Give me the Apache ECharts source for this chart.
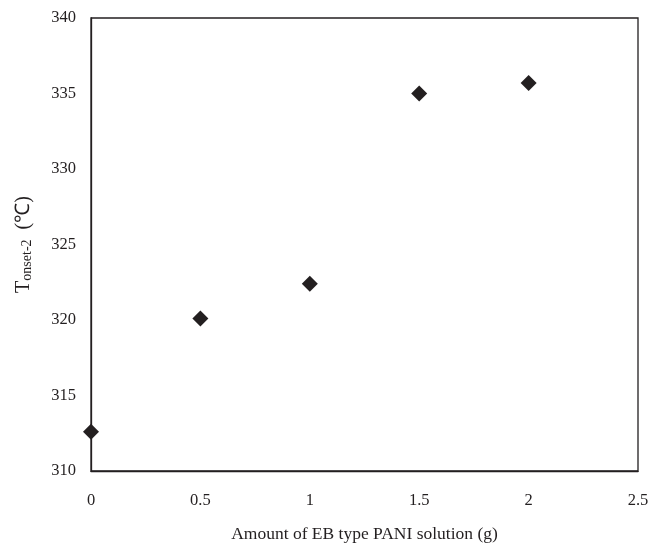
<!DOCTYPE html>
<html>
<head>
<meta charset="utf-8">
<script src="https://cdn.jsdelivr.net/npm/echarts@6/dist/echarts.min.js"></script>
<style>
  html, body { margin: 0; padding: 0; background: #fff; }
  #chart { width: 652px; height: 545px; }
</style>
</head>
<body>
<div id="chart"></div>
<script>
// amount of EB type PANI solution (g) vs onset temperature
const amounts = [0, 0.5, 1, 1.5, 2]
const tOnset = [312.6, 320.1, 322.4, 335.0, 335.7]

const serif = 'Liberation Serif'
const ink = '#231f20'

let myChart = echarts.init(document.getElementById('chart'))

const option = {
    animation: false,
    grid: {
        left: 91, right: 14, top: 18, bottom: 74,
        outerBoundsMode: 'none',
        show: true, borderColor: ink, borderWidth: 1.3
    },
    xAxis: {
        type: 'value',
        min: 0, max: 2.5, interval: 0.5,
        axisLine: { lineStyle: { color: ink, width: 1.3 } },
        axisTick: { show: false },
        splitLine: { show: false },
        axisLabel: { margin: 21, fontFamily: serif, fontSize: 16.5, color: ink },
        name: 'Amount of EB type PANI solution (g)',
        nameLocation: 'middle',
        nameGap: 54,
        nameTextStyle: { fontFamily: serif, fontSize: 17.5, color: ink }
    },
    yAxis: {
        type: 'value',
        min: 310, max: 340, interval: 5,
        axisLine: { show: true, lineStyle: { color: ink, width: 1.3 } },
        axisTick: { show: false },
        splitLine: { show: false },
        axisLabel: { margin: 15, fontFamily: serif, fontSize: 16.5, color: ink },
        name: '{t|T}{s|onset-2}{t|  (℃)}',
        nameLocation: 'middle',
        nameGap: 57,
        nameTextStyle: {
            fontFamily: serif, color: ink,
            rich: {
                t: { fontFamily: serif, fontSize: 20, color: ink },
                s: { fontFamily: serif, fontSize: 14, color: ink, padding: [7, 0, 0, 0] }
            }
        }
    },
    series: [{
        type: 'scatter',
        data: amounts.map((a, i) => [a, tOnset[i]]),
        symbol: 'diamond',
        symbolSize: [16, 16],
        itemStyle: { color: ink, opacity: 1 }
    }]
}

myChart.setOption(option)
</script>
</body>
</html>
